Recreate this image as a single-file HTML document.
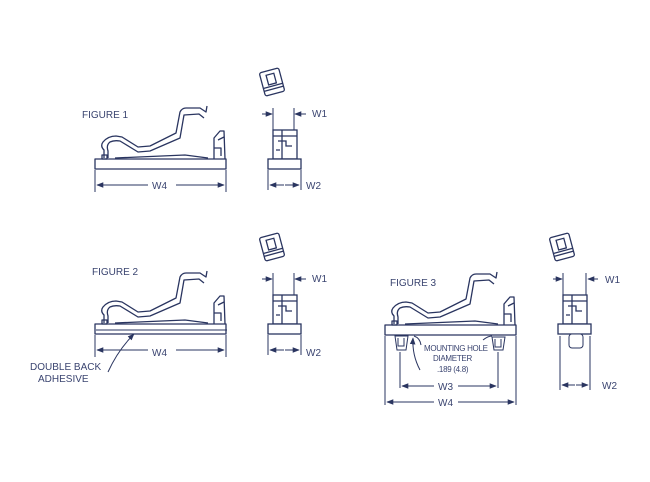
<!DOCTYPE html>
<html><head><meta charset="utf-8"><style>
html,body{margin:0;padding:0;background:#fff;width:650px;height:482px;overflow:hidden}
svg{display:block}
text{font-family:"Liberation Sans",sans-serif;fill:#3a4470}
</style></head><body>
<svg width="650" height="482" viewBox="0 0 650 482" xmlns="http://www.w3.org/2000/svg">
<defs>
<marker id="ar" viewBox="0 0 10 10" refX="9" refY="5" markerWidth="7" markerHeight="7" orient="auto"><path d="M0,1 L10,5 L0,9 z" fill="#2a3560"/></marker>
<g id="clip" fill="none" stroke="#2a3560" stroke-width="1.3" stroke-linejoin="round">
<rect x="95" y="159" width="131" height="10" fill="#fff"/>
<path d="M104,158 L104,150 Q100,146 103,142 Q108,136 116,136 L122,137 L138,147 L150,146 L176,133 L180,112 Q182,108 186,108 L200,108 L206,112 L207,106"/>
<path d="M108,158 L108,151 Q106,145 110,142 Q114,140 120,141 L138,152 L150,151 L180,138 L184,115 L199,114 L204,118"/>
<path d="M115,158 L185,155 L208,158"/>
<path d="M214,159 L214,138 L220,131 L224,131 L225,159 M214,148 L221,148 L221,156 M218,140 L224,137"/>
<rect x="102" y="155" width="5" height="4"/>
</g>
<g id="side" fill="none" stroke="#2a3560" stroke-width="1.3">
<g transform="rotate(-15 272 82)">
<rect x="262" y="70" width="20" height="24" rx="2" fill="#fff"/>
<rect x="268" y="74" width="8" height="10"/>
<path d="M262,86 L282,86 M262,89 L282,89"/>
</g>
<rect x="273" y="130" width="24" height="29" fill="#fff"/>
<path d="M273,136 L297,136 M278,141 L286,141 L286,146 L292,146 M282,130 L282,159 M276,150 L280,150"/>
<rect x="268" y="159" width="33" height="10" fill="#fff"/>
</g>
<g id="dims" stroke="#2a3560" stroke-width="1" fill="none">
<path d="M95,170 V192 M226,170 V192"/>
<path d="M148,185 H97" marker-end="url(#ar)"/>
<path d="M176,185 H224" marker-end="url(#ar)"/>
<path d="M273,108 V130 M294,108 V130 M268,170 V190 M301,170 V190"/>
<path d="M262,114 H272" marker-end="url(#ar)"/>
<path d="M306,114 H295" marker-end="url(#ar)"/>
<path d="M284,185 H270" marker-end="url(#ar)"/>
<path d="M285,185 H299" marker-end="url(#ar)"/>
</g>
</defs>
<use href="#clip"/>
<use href="#side"/>
<use href="#dims"/>
<g transform="translate(0,165)"><use href="#clip"/><use href="#side"/><use href="#dims"/></g>
<g stroke="#2a3560" stroke-width="1" fill="none">
<path d="M96,330 H227"/>
<path d="M108,372 Q118,350 134,334" marker-end="url(#ar)"/>
</g>
<!-- FIGURE 3 -->
<g transform="translate(290,166)"><use href="#clip"/></g>
<g transform="translate(290,165)"><use href="#side"/></g>
<g stroke="#2a3560" stroke-width="1" fill="none">
<path d="M395,336 L408,336 L406,350 L397,350 Z M398,338 L398,346 L404,346 L404,338 M492,337 L505,337 L503,350 L494,350 Z M495,339 L495,347 L501,347 L501,339"/>
<path d="M414,336 Q420,338 421,345 M483,340 Q488,336 492,336"/>
<rect x="569" y="334" width="14" height="14" rx="3" fill="#fff"/>
<path d="M385,336 V405 M516,336 V405 M400,352 V388 M498,352 V388"/>
<path d="M434,386 H402" marker-end="url(#ar)"/>
<path d="M458,386 H496" marker-end="url(#ar)"/>
<path d="M434,402 H387" marker-end="url(#ar)"/>
<path d="M458,402 H514" marker-end="url(#ar)"/>
<path d="M420,370 Q412,355 413,338" marker-end="url(#ar)"/>
<path d="M563,273 V295 M586,273 V295 M560,336 V390 M590,336 V390"/>
<path d="M553,279 H562" marker-end="url(#ar)"/>
<path d="M598,279 H588" marker-end="url(#ar)"/>
<path d="M575,385 H562" marker-end="url(#ar)"/>
<path d="M576,385 H588" marker-end="url(#ar)"/>
</g>
<g font-size="10">
<text x="82" y="118">FIGURE 1</text>
<text x="152" y="189">W4</text>
<text x="312" y="117">W1</text>
<text x="306" y="189">W2</text>
<text x="92" y="275">FIGURE 2</text>
<text x="152" y="356">W4</text>
<text x="312" y="282">W1</text>
<text x="306" y="356">W2</text>
<text x="30" y="370">DOUBLE BACK</text>
<text x="38" y="382">ADHESIVE</text>
<text x="390" y="286">FIGURE 3</text>
<text x="438" y="390">W3</text>
<text x="438" y="406">W4</text>
<text x="605" y="283">W1</text>
<text x="602" y="389">W2</text>
</g>
<g font-size="8" letter-spacing="-0.3">
<text x="424" y="351">MOUNTING HOLE</text>
<text x="433" y="361">DIAMETER</text>
<text x="437" y="372">.189 (4.8)</text>
</g>
</svg>
</body></html>
